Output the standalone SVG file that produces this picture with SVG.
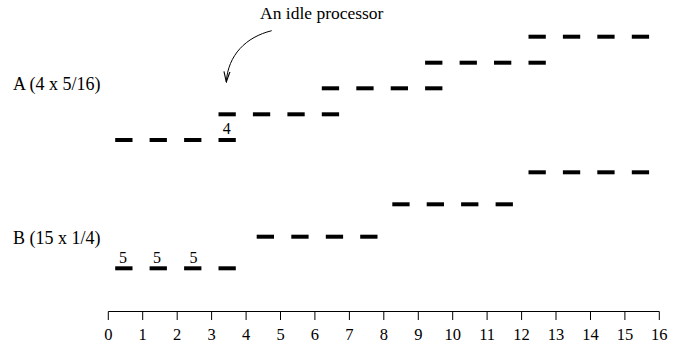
<svg xmlns="http://www.w3.org/2000/svg" width="689" height="348" viewBox="0 0 689 348">
  <defs>
    <style>
      .bar { fill: #000; }
      .lbl { font-family: "Liberation Serif", "Times New Roman", serif; font-size: 17.5px; fill: #000; }
      .row { font-size: 18px; }
      .num { font-family: "Liberation Serif", "Times New Roman", serif; font-size: 16.5px; fill: #000; text-anchor: middle; }
      .tag { font-size: 16px; }
      .axis { stroke: #000; stroke-width: 1; fill: none; }
      .conn { stroke: #000; stroke-width: 1; fill: none; }
    </style>
    <rect id="seg" class="bar" width="17.3" height="4"/>
    <marker id="vhead" viewBox="0 0 11 8" refX="10.5" refY="4" markerWidth="11" markerHeight="8" markerUnits="userSpaceOnUse" orient="auto">
      <path d="M0,1 L10.5,4 L0,7" fill="none" stroke="#000" stroke-width="1.1"/>
    </marker>
  </defs>
  <rect width="689" height="348" fill="#fff"/>

  <!-- row labels -->
  <g id="label-a"><text class="lbl row" x="13" y="90">A (4 x 5/16)</text></g>
  <g id="label-b"><text class="lbl row" x="13" y="244">B (15 x 1/4)</text></g>
  <g id="label-idle"><text class="lbl" x="260" y="18.5">An idle processor</text></g>

  <!-- job A: five stepped rows of four slices -->
  <g id="job-a">
    <g id="a-row1">
      <use href="#seg" x="115.2" y="138"/><use href="#seg" x="149.6" y="138"/><use href="#seg" x="184.1" y="138"/><use href="#seg" x="218.5" y="138"/>
    </g>
    <g id="a-row2">
      <use href="#seg" x="218.5" y="112.3"/><use href="#seg" x="252.9" y="112.3"/><use href="#seg" x="287.4" y="112.3"/><use href="#seg" x="321.8" y="112.3"/>
    </g>
    <g id="a-row3">
      <use href="#seg" x="321.8" y="86.3"/><use href="#seg" x="356.3" y="86.3"/><use href="#seg" x="390.7" y="86.3"/><use href="#seg" x="425.1" y="86.3"/>
    </g>
    <g id="a-row4">
      <use href="#seg" x="425.1" y="60.7"/><use href="#seg" x="459.6" y="60.7"/><use href="#seg" x="494.0" y="60.7"/><use href="#seg" x="528.5" y="60.7"/>
    </g>
    <g id="a-row5">
      <use href="#seg" x="528.5" y="34.7"/><use href="#seg" x="562.9" y="34.7"/><use href="#seg" x="597.3" y="34.7"/><use href="#seg" x="631.8" y="34.7"/>
    </g>
    <text class="num tag" x="226.7" y="133.5">4</text>
  </g>

  <!-- job B: four stepped rows of four slices -->
  <g id="job-b">
    <g id="b-row1">
      <use href="#seg" x="115.2" y="266.3"/><use href="#seg" x="149.6" y="266.3"/><use href="#seg" x="184.1" y="266.3"/><use href="#seg" x="218.5" y="266.3"/>
    </g>
    <g id="b-row2">
      <use href="#seg" x="256.7" y="234.7"/><use href="#seg" x="291.3" y="234.7"/><use href="#seg" x="325.8" y="234.7"/><use href="#seg" x="360.2" y="234.7"/>
    </g>
    <g id="b-row3">
      <use href="#seg" x="392.3" y="202.3"/><use href="#seg" x="426.7" y="202.3"/><use href="#seg" x="461.1" y="202.3"/><use href="#seg" x="495.6" y="202.3"/>
    </g>
    <g id="b-row4">
      <use href="#seg" x="528.5" y="170.3"/><use href="#seg" x="562.9" y="170.3"/><use href="#seg" x="597.3" y="170.3"/><use href="#seg" x="631.8" y="170.3"/>
    </g>
    <text class="num tag" x="123" y="262.5">5</text>
    <text class="num tag" x="157" y="262.5">5</text>
    <text class="num tag" x="193.5" y="262.5">5</text>
  </g>

  <!-- time axis -->
  <g id="time-axis">
    <path class="axis" d="M108.3,311.5 H659.3"/>
    <path class="axis" d="M108.3,311.5 v8.5 M142.7,311.5 v8.5 M177.2,311.5 v8.5 M211.6,311.5 v8.5 M246.1,311.5 v8.5 M280.5,311.5 v8.5 M314.9,311.5 v8.5 M349.4,311.5 v8.5 M383.8,311.5 v8.5 M418.3,311.5 v8.5 M452.7,311.5 v8.5 M487.1,311.5 v8.5 M521.6,311.5 v8.5 M556.0,311.5 v8.5 M590.5,311.5 v8.5 M624.9,311.5 v8.5 M659.3,311.5 v8.5"/>
    <text class="num" x="108.3" y="340">0</text>
    <text class="num" x="142.7" y="340">1</text>
    <text class="num" x="177.2" y="340">2</text>
    <text class="num" x="211.6" y="340">3</text>
    <text class="num" x="246.1" y="340">4</text>
    <text class="num" x="280.5" y="340">5</text>
    <text class="num" x="314.9" y="340">6</text>
    <text class="num" x="349.4" y="340">7</text>
    <text class="num" x="383.8" y="340">8</text>
    <text class="num" x="418.3" y="340">9</text>
    <text class="num" x="452.7" y="340">10</text>
    <text class="num" x="487.1" y="340">11</text>
    <text class="num" x="521.6" y="340">12</text>
    <text class="num" x="556.0" y="340">13</text>
    <text class="num" x="590.5" y="340">14</text>
    <text class="num" x="624.9" y="340">15</text>
    <text class="num" x="659.3" y="340">16</text>
  </g>

  <!-- connectors -->
  <g id="connectors">
    <path class="conn" d="M271.7,30.7 C246,37 228,55 226.3,82" marker-end="url(#vhead)"/>
  </g>
</svg>
